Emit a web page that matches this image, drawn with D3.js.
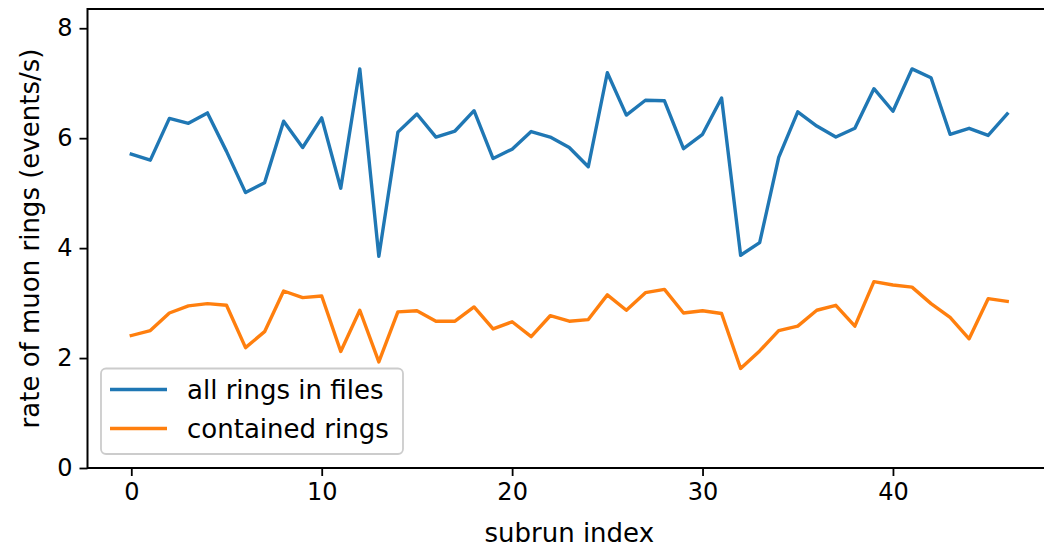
<!DOCTYPE html>
<html><head><meta charset="utf-8">
<script src="https://cdn.jsdelivr.net/npm/d3@7"></script>
<style>body{margin:0;background:#fff}svg{display:block;font-family:"DejaVu Sans",sans-serif}</style>
</head><body><svg id="c" width="1044" height="548"></svg>
<script>
const allRings = [5.71,5.60,6.36,6.27,6.46,5.76,5.01,5.19,6.31,5.83,6.37,5.09,7.26,3.85,6.11,6.44,6.02,6.13,6.50,5.63,5.80,6.12,6.02,5.83,5.48,7.19,6.42,6.69,6.68,5.81,6.07,6.73,3.87,4.10,5.65,6.48,6.22,6.02,6.18,6.90,6.49,7.26,7.10,6.07,6.18,6.05,6.44];
const containedRings = [2.41,2.50,2.82,2.95,2.99,2.96,2.19,2.48,3.22,3.10,3.13,2.12,2.87,1.93,2.84,2.86,2.67,2.67,2.93,2.53,2.66,2.39,2.77,2.67,2.70,3.15,2.87,3.19,3.25,2.82,2.86,2.81,1.81,2.13,2.50,2.58,2.87,2.96,2.58,3.39,3.33,3.29,2.99,2.74,2.35,3.08,3.03];
const seriesNames = ["all rings in files","contained rings"];
const xTicks = [0,10,20,30,40];
const yTicks = [0,2,4,6,8];
const xLabel = "subrun index";
const yLabel = "rate of muon rings (events/s)";

const svg = d3.select("#c");
const L = 87.5, R = 1051, T = 9, B = 468;
const x = d3.scaleLinear().domain([-2.3, 48.3]).range([L, R]);
const y = d3.scaleLinear().domain([0, 8.35]).range([B, T]);
const colors = ["#1f77b4", "#ff7f0e"];
const series = [allRings, containedRings];

const line = d3.line().x((d,i)=>x(i)).y(d=>y(d));
series.forEach((s,k)=>{
  svg.append("path").datum(s).attr("d", line).attr("fill","none")
    .attr("stroke", colors[k]).attr("stroke-width", 3.4).attr("stroke-linejoin","round").attr("stroke-linecap","square");
});

const xa = svg.append("g").attr("transform",`translate(0,${B})`)
  .call(d3.axisBottom(x).tickValues(xTicks).tickSize(8).tickPadding(7).tickFormat(d3.format("d")));
const ya = svg.append("g").attr("transform",`translate(${L},0)`)
  .call(d3.axisLeft(y).tickValues(yTicks).tickSize(8).tickPadding(7).tickFormat(d3.format("d")));
[xa, ya].forEach(a=>{
  a.select(".domain").remove();
  a.selectAll(".tick line").attr("stroke","#000").attr("stroke-width",1.8);
  a.selectAll(".tick text").attr("font-size",24).attr("fill","#000").attr("font-family","DejaVu Sans");
});
// spines
svg.append("rect").attr("x",L).attr("y",T).attr("width",R-L).attr("height",B-T)
  .attr("fill","none").attr("stroke","#000").attr("stroke-width",2);

svg.append("text").attr("x",(L+R)/2).attr("y",542).attr("text-anchor","middle")
  .attr("font-size",26).text(xLabel);
svg.append("text").attr("transform",`translate(39,${(T+B)/2}) rotate(-90)`).attr("text-anchor","middle")
  .attr("font-size",26).text(yLabel);

// legend
const lg = svg.append("g");
lg.append("rect").attr("x",101).attr("y",368.5).attr("width",302).attr("height",85.5).attr("rx",5)
  .attr("fill","#fff").attr("fill-opacity",0.8).attr("stroke","#cccccc").attr("stroke-width",1.8);
seriesNames.forEach((n,k)=>{
  const yy = 389.5 + k*39;
  lg.append("line").attr("x1",110).attr("x2",167).attr("y1",yy).attr("y2",yy)
    .attr("stroke",colors[k]).attr("stroke-width",3.4);
  lg.append("text").attr("x",187).attr("y",yy+9).attr("font-size",26).text(n);
});
</script></body></html>
